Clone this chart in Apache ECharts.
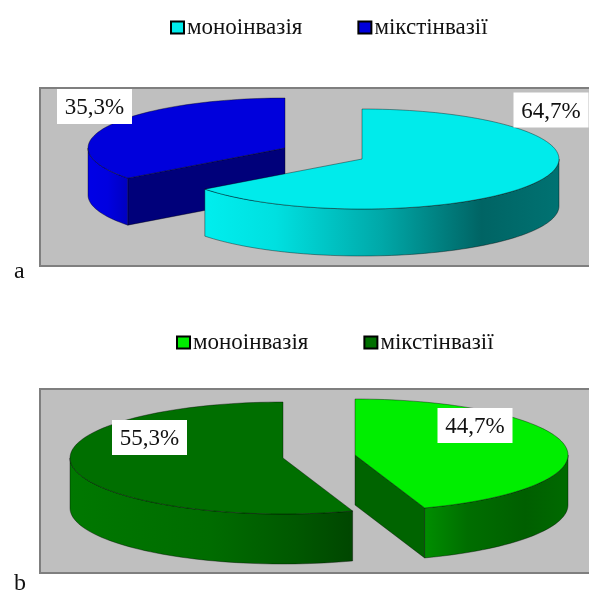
<!DOCTYPE html>
<html><head><meta charset="utf-8">
<style>html,body{margin:0;padding:0;background:#fff}#c{width:589px;height:592px}</style>
<script src="https://cdn.jsdelivr.net/npm/echarts@6/dist/echarts.min.js"></script>
</head><body><div id="c"></div>
<script>
const categories = ['моноінвазія', 'мікстінвазії'];
const panelNames = ['a', 'b'];
const monoValues = [64.7, 44.7];
const mikstValues = [35.3, 55.3];

const FONT = '"Liberation Serif","Times New Roman",serif';
const panels = [
  {x:40, y:88, h:178, nameY:272, rx:197, ry:50, depth:47,
   legendTop:16, legendLeft:170,
   mono:{cx:362, cy:159, label:[551,110]},
   mikst:{cx:285, cy:148, label:[94.5,106.5]}},
  {x:40, y:389, h:184, nameY:584, rx:213, ry:56, depth:50,
   legendTop:331, legendLeft:176,
   mono:{cx:355, cy:455, label:[475,425.5]},
   mikst:{cx:283, cy:458, label:[149.5,437.5]}}
];
const looks = {
  mono:[
    {top:'#00EBEB', face:'#009090', side:[[0,'#00EEEE'],[0.2,'#00E0E0'],[0.5,'#00A8A8'],[0.78,'#006464'],[1,'#007272']]},
    {top:'#00EE00', face:'#006400', side:[[0,'#008E00'],[0.3,'#006E00'],[0.7,'#005F00'],[1,'#006A00']]}
  ],
  mikst:[
    {top:'#0000DC', face:'#00007A', side:[[0,'#0000E6'],[0.5,'#0000E0'],[1,'#0000C0']]},
    {top:'#006F00', face:'#006000', side:[[0,'#007800'],[0.5,'#006C00'],[0.8,'#005800'],[1,'#004600']]}
  ]
};

function arc(p, c, a0, a1, dy){
  const pts = [], n = Math.max(2, Math.ceil((a1 - a0) / 2));
  for (let i = 0; i <= n; i++){
    const t = (a0 + (a1 - a0) * i / n) * Math.PI / 180;
    pts.push([c.cx + p.rx * Math.sin(t), c.cy - p.ry * Math.cos(t) + dy]);
  }
  return pts;
}
function makeRender(key){
  return function(params, api){
    const i = params.dataIndex, p = panels[i], c = p[key], look = looks[key][i];
    const value = api.value(0);
    const a0 = key === 'mono' ? 0 : monoValues[i] * 3.6;
    const a1 = key === 'mono' ? value * 3.6 : 360;
    const line = {stroke:'rgba(0,0,0,0.55)', lineWidth:0.7};
    const children = [];
    const addFace = a => {
      const e = arc(p, c, a, a, 0)[0];
      children.push({type:'polygon', shape:{points:[[c.cx,c.cy],e,[e[0],e[1]+p.depth],[c.cx,c.cy+p.depth]]},
        style:Object.assign({fill:look.face}, line)});
    };
    if (Math.sin(a0 * Math.PI / 180) < -1e-6) addFace(a0);
    if (Math.sin(a1 * Math.PI / 180) > 1e-6) addFace(a1);
    const s0 = Math.max(a0, 90), s1 = Math.min(a1, 270);
    if (s1 > s0){
      const up = arc(p, c, s0, s1, 0), down = arc(p, c, s0, s1, p.depth).reverse();
      children.push({type:'polygon', shape:{points:up.concat(down)},
        style:Object.assign({fill:{type:'linear',x:0,y:0,x2:1,y2:0,
          colorStops:look.side.map(s => ({offset:s[0], color:s[1]}))}}, line)});
    }
    children.push({type:'polygon', shape:{points:[[c.cx,c.cy]].concat(arc(p, c, a0, a1, 0))},
      style:Object.assign({fill:look.top}, line)});
    children.push({type:'rect', shape:{x:c.label[0]-37.5, y:c.label[1]-17.5, width:75, height:35}, style:{fill:'#fff'}});
    children.push({type:'text', style:{x:c.label[0], y:c.label[1]+1.5, text:value.toFixed(1).replace('.', ',') + '%',
      font:'23px ' + FONT, fill:'#111', textAlign:'center', textVerticalAlign:'middle'}});
    return {type:'group', children};
  };
}
const chart = echarts.init(document.getElementById('c'), null, {renderer:'canvas'});
chart.setOption({
  animation:false,
  backgroundColor:'#fff',
  tooltip:{show:false},
  legend:panels.map((p, i) => ({
    left:p.legendLeft, top:p.legendTop, padding:0, itemWidth:13, itemHeight:12, itemGap:55, selectedMode:false,
    icon:'rect',
    textStyle:{fontFamily:FONT, fontSize:23, color:'#111', padding:[0,0,0,-2]},
    data:[
      {name:categories[0], itemStyle:{color:looks.mono[i].top, borderColor:'#000', borderWidth:2}},
      {name:categories[1], itemStyle:{color:looks.mikst[i].top, borderColor:'#000', borderWidth:2}}
    ]
  })),
  graphic:panels.flatMap((p, i) => [
    {type:'rect', z:-1, shape:{x:p.x, y:p.y, width:600, height:p.h}, style:{fill:'#BFBFBF', stroke:'#7F7F7F', lineWidth:2}},
    {type:'text', z:-1, style:{x:14, y:p.nameY, text:panelNames[i], font:'24px ' + FONT, fill:'#111', textVerticalAlign:'middle'}}
  ]),
  series:[
    {type:'custom', name:categories[1], coordinateSystem:'none', renderItem:makeRender('mikst'),
     itemStyle:{color:looks.mikst[0].top}, data:mikstValues.map(v => [v]), silent:true},
    {type:'custom', name:categories[0], coordinateSystem:'none', renderItem:makeRender('mono'),
     itemStyle:{color:looks.mono[0].top}, data:monoValues.map(v => [v]), silent:true}
  ]
});
</script></body></html>
